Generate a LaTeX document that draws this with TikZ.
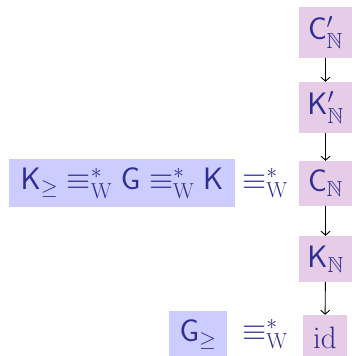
\RequirePackage{fix-cm}
\documentclass[tikz,border=0pt]{standalone}
\usepackage{amssymb}
\usetikzlibrary{arrows.meta}
\definecolor{ink}{RGB}{45,45,150}
\definecolor{bluebg}{RGB}{204,204,255}
\definecolor{pinkbg}{RGB}{230,204,230}
\begin{document}
\begin{tikzpicture}[x=1pt, y=-1pt, font=\fontsize{31}{36}\selectfont, line cap=round,
	>={Straight Barb[length=4pt,width=9pt]},
	txt/.style={text=ink, inner sep=0pt, anchor=center},
	nat/.style={txt, fill=pinkbg, minimum width=53pt},
	eqv/.style={txt, fill=bluebg}]
	\def\eqw{\equiv^{*}_{\mathrm{W}}}
	\useasboundingbox (0,0) rectangle (352,356);
	% right column
	\node[nat, minimum height=51pt] (cp) at (325.5,32.5) {$\mathsf{C}'_{\mathbb{N}}$};
	\node[nat, minimum height=51pt] (kp) at (325.5,107.5) {$\mathsf{K}'_{\mathbb{N}}$};
	\node[nat, minimum height=45pt] (cn) at (325.5,183.5) {$\mathsf{C}_{\mathbb{N}}$};
	\node[nat, minimum height=46pt] (kn) at (325.5,259) {$\mathsf{K}_{\mathbb{N}}$};
	\node[nat, minimum width=44pt, minimum height=45pt] (id) at (325,337.5) {$\mathrm{id}$};
	% left boxes
	\node[eqv, minimum width=226pt, minimum height=48pt] (kgk) at (122,183)
		{$\mathsf{K}_{\geq}\eqw\mathsf{G}\eqw\mathsf{K}$};
	\node[eqv, minimum width=58pt, minimum height=47pt] (gg) at (198,334.5) {$\mathsf{G}_{\geq}$};
	\node[txt] (e1) at (265,183) {$\eqw$};
	\node[txt] (e2) at (265,334) {$\eqw$};
	\foreach \a/\b in {cp/kp,kp/cn,cn/kn,kn/id} \draw[->, line width=0.9pt] (\a) -- (\b);
\end{tikzpicture}
\end{document}
